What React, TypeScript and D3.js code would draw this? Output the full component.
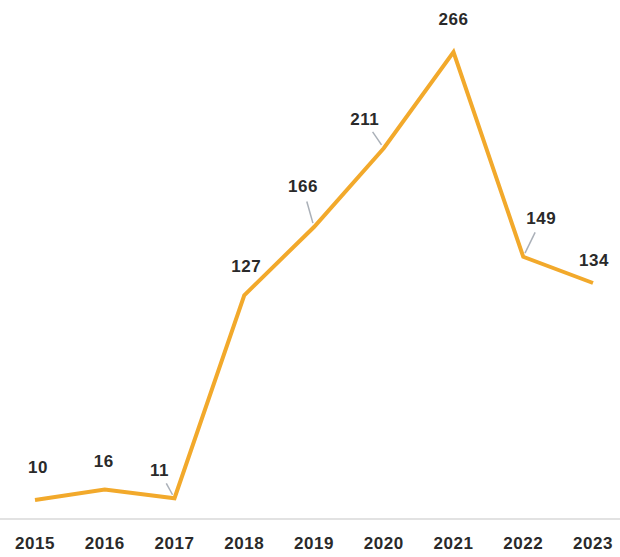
import React from "react";
import * as d3 from "d3";

const years = ["2015", "2016", "2017", "2018", "2019", "2020", "2021", "2022", "2023"];
const values = [10, 16, 11, 127, 166, 211, 266, 149, 134];

// label layout (offset from point) and whether a leader line is drawn
const labelLayout = [
  { dx: 3, dy: -31, leader: false },
  { dx: -1, dy: -27, leader: false },
  { dx: -15, dy: -27, leader: true },
  { dx: 2, dy: -28, leader: false },
  { dx: -11, dy: -39, leader: true },
  { dx: -19, dy: -28, leader: true },
  { dx: 0, dy: -31, leader: false },
  { dx: 18, dy: -37, leader: true },
  { dx: 1, dy: -21, leader: false },
];

const W = 620;
const H = 557;

export default function App() {
  const x = d3.scalePoint<string>().domain(years).range([35, 593]);
  const y = d3.scaleLinear().domain([0, 266]).range([517.5, 52]);
  const data = years.map((yr, i) => ({ yr, v: values[i] }));
  const line = d3
    .line<{ yr: string; v: number }>()
    .x((d) => x(d.yr) as number)
    .y((d) => y(d.v));
  const font = "'Liberation Sans', Arial, Helvetica, sans-serif";
  const textProps = {
    textAnchor: "middle" as const,
    dominantBaseline: "middle" as const,
    fontFamily: font,
    fontSize: 17,
    fontWeight: 600,
    letterSpacing: 0.6,
    fill: "#2a2a2a",
  };

  return (
    <svg
      width={W}
      height={H}
      style={{ position: "absolute", left: 0, top: 0, background: "#fff" }}
    >
      <line x1={0} x2={W} y1={519} y2={519} stroke="#e2e2e2" strokeWidth={2} />
      {years.map((yr) => (
        <text key={yr} x={x(yr)} y={545} {...textProps}>
          {yr}
        </text>
      ))}
      {data.map((d, i) => {
        const px = x(d.yr) as number;
        const py = y(d.v);
        const L = labelLayout[i];
        const lx = px + L.dx;
        const ly = py + L.dy;
        let leader = null;
        if (L.leader) {
          const vx = px - lx;
          const vy = py - ly;
          const len = Math.hypot(vx, vy);
          const ux = vx / len;
          const uy = vy / len;
          const start = 14;
          const end = 4;
          leader = (
            <line
              x1={lx + ux * start}
              y1={ly + uy * start}
              x2={px - ux * end}
              y2={py - uy * end}
              stroke="#aab0b8"
              strokeWidth={1.5}
            />
          );
        }
        return (
          <g key={d.yr}>
            {leader}
            <text x={lx} y={ly} {...textProps}>
              {d.v}
            </text>
          </g>
        );
      })}
      <path
        d={line(data) ?? ""}
        fill="none"
        stroke="#f2a92b"
        strokeWidth={4}
        strokeLinejoin="miter"
      />
    </svg>
  );
}
